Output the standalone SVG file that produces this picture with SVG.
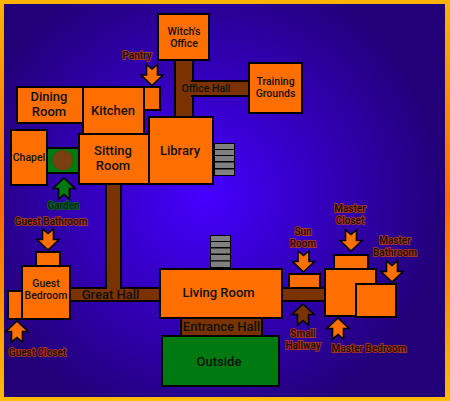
<svg xmlns="http://www.w3.org/2000/svg" width="450" height="401" viewBox="0 0 450 401">
<defs>
<linearGradient id="frame" x1="0" y1="0" x2="0" y2="1"><stop offset="0" stop-color="#ffb300"/><stop offset="0.5" stop-color="#ff6600"/><stop offset="1" stop-color="#ffbb00"/></linearGradient>
<radialGradient id="bg" gradientUnits="userSpaceOnUse" cx="205" cy="195" r="240"><stop offset="0" stop-color="#4400ff"/><stop offset="1" stop-color="#220077"/></radialGradient>
<path id="down" d="M-5.500 0L0 4.500L5.500 0V10.500H11L0 21L-11 10.500H-5.500Z"/>
</defs>
<style>
.room{fill:#ff6e00;stroke:#000;stroke-width:2}
.hall{fill:#7a3300;stroke:#000;stroke-width:2}
.grn{fill:#007a10;stroke:#000;stroke-width:2}
.step{fill:#808080;stroke:#000;stroke-width:1}
.arr{fill:#ff7000;stroke:#000;stroke-width:1.600}
text{font-family:Roboto,"Noto Sans",sans-serif;font-weight:500;text-anchor:middle;fill:#111}
.n{font-size:13px}
.s{font-size:10.500px}
.l{font-size:10px;fill:#1c0a00;stroke:#c04010;stroke-width:2px;stroke-opacity:.8;paint-order:stroke}
.g{fill:#002a08;stroke:#0a6a18}
</style>
<rect width="450" height="401" fill="url(#frame)"/>
<rect x="4" y="4" width="441" height="393" fill="url(#bg)"/>
<g id="connectors">
<rect class="hall" x="175" y="59" width="18" height="60"/>
<rect class="hall" x="192" y="81" width="57" height="15"/>
<rect x="191" y="82" width="3" height="13" fill="#7a3300"/>
<rect class="hall" x="106" y="183" width="15" height="106"/>
<rect class="hall" x="70" y="288" width="90" height="13"/>
<rect x="107" y="284" width="13" height="6" fill="#7a3300"/>
<rect class="hall" x="181" y="317" width="81" height="19"/>
<rect class="hall" x="282" y="288" width="43" height="13"/>
</g>
<g id="witch-office"><rect class="room" x="158" y="14" width="51" height="46"/><text class="s" x="184" y="35">Witch's</text><text class="s" x="184" y="47">Office</text></g>
<g id="training-grounds"><rect class="room" x="249" y="63" width="53" height="50"/><text class="s" x="275.500" y="85">Training</text><text class="s" x="275.500" y="97">Grounds</text></g>
<g id="dining-room"><rect class="room" x="17" y="87" width="66" height="36"/><text class="n" x="49" y="101">Dining</text><text class="n" x="49" y="116">Room</text></g>
<g id="pantry"><rect class="room" x="144" y="87" width="16" height="23"/></g>
<g id="kitchen"><rect class="room" x="83" y="87" width="61" height="48"/><text class="n" x="113" y="115">Kitchen</text></g>
<g id="chapel"><rect class="room" x="11" y="130" width="36" height="55"/><text class="s" x="29" y="161">Chapel</text></g>
<g id="garden"><rect class="grn" x="47" y="148" width="32" height="25"/><circle cx="62.700" cy="160.300" r="10.500" fill="#7a3f10" stroke="#0a6a18" stroke-width="1"/></g>
<g id="sitting-room"><rect class="room" x="79" y="134" width="70" height="50"/><text class="n" x="113" y="155">Sitting</text><text class="n" x="113" y="170">Room</text></g>
<g id="library"><rect class="room" x="149" y="117" width="64" height="67"/><text class="n" x="180" y="155">Library</text></g>
<g id="stairs-upper"><rect class="step" x="214.500" y="143.500" width="20" height="6"/><rect class="step" x="214.500" y="149.500" width="20" height="6"/><rect class="step" x="214.500" y="155.500" width="20" height="6"/><rect class="step" x="214.500" y="162" width="20" height="6.500"/><rect class="step" x="214.500" y="169" width="20" height="6.500"/></g>
<g id="stairs-lower"><rect class="step" x="210.500" y="235.500" width="20" height="6"/><rect class="step" x="210.500" y="241.500" width="20" height="6"/><rect class="step" x="210.500" y="248" width="20" height="6"/><rect class="step" x="210.500" y="254.500" width="20" height="6.500"/><rect class="step" x="210.500" y="261" width="20" height="6.500"/></g>
<g id="guest-bathroom"><rect class="room" x="36" y="252" width="24" height="14"/></g>
<g id="guest-closet"><rect class="room" x="8" y="291" width="14" height="28"/></g>
<g id="guest-bedroom"><rect class="room" x="22" y="266" width="48" height="53"/><text class="s" x="46" y="287">Guest</text><text class="s" x="46" y="299">Bedroom</text></g>
<g id="living-room"><rect class="room" x="160" y="269" width="122" height="49"/><text class="n" x="218.500" y="297">Living Room</text></g>
<g id="entrance-hall"><text class="n" x="221.500" y="331">Entrance Hall</text></g>
<g id="great-hall"><text class="n" x="110.500" y="299">Great Hall</text></g>
<g id="outside"><rect class="grn" x="162" y="336" width="117" height="50"/><text class="n" x="219" y="366">Outside</text></g>
<g id="sun-room"><rect class="room" x="289" y="274" width="31" height="14"/></g>
<g id="master-closet"><rect class="room" x="334" y="255" width="34" height="14"/></g>
<g id="master-bedroom"><rect class="room" x="325" y="269" width="51" height="47"/></g>
<g id="master-bathroom"><rect class="room" x="356" y="284" width="40" height="33"/></g>
<g id="office-hall"><text class="s" x="206" y="92">Office Hall</text></g>
<g id="pantry-label"><use href="#down" class="arr" x="152" y="64.500"/><text class="l" x="137" y="59">Pantry</text></g>
<g id="garden-label"><use href="#down" transform="translate(64 199) scale(1 -1)" class="arr" style="fill:#007a10"/><text class="l g" x="63.500" y="209">Garden</text></g>
<g id="guest-bath-label"><use href="#down" class="arr" x="48" y="229"/><text class="l" x="51" y="225">Guest Bathroom</text></g>
<g id="guest-closet-label"><use href="#down" transform="translate(17 342) scale(1 -1)" class="arr"/><text class="l" x="37.500" y="356">Guest Closet</text></g>
<g id="sun-room-label"><use href="#down" class="arr" x="303.500" y="251"/><text class="l" x="303" y="235">Sun</text><text class="l" x="303" y="247">Room</text></g>
<g id="small-hall-label"><use href="#down" transform="translate(303 325) scale(1 -1)" class="arr" style="fill:#7a3300"/><text class="l" x="303" y="337">Small</text><text class="l" x="303" y="349">Hallway</text></g>
<g id="closet-label"><use href="#down" class="arr" x="351" y="230"/><text class="l" x="350" y="212">Master</text><text class="l" x="350" y="224">Closet</text></g>
<g id="bath-label"><use href="#down" class="arr" x="392" y="261"/><text class="l" x="395" y="244">Master</text><text class="l" x="395" y="256">Bathroom</text></g>
<g id="bedroom-label"><use href="#down" transform="translate(338 339) scale(1 -1)" class="arr"/><text class="l" x="369" y="352">Master Bedroom</text></g>
</svg>
